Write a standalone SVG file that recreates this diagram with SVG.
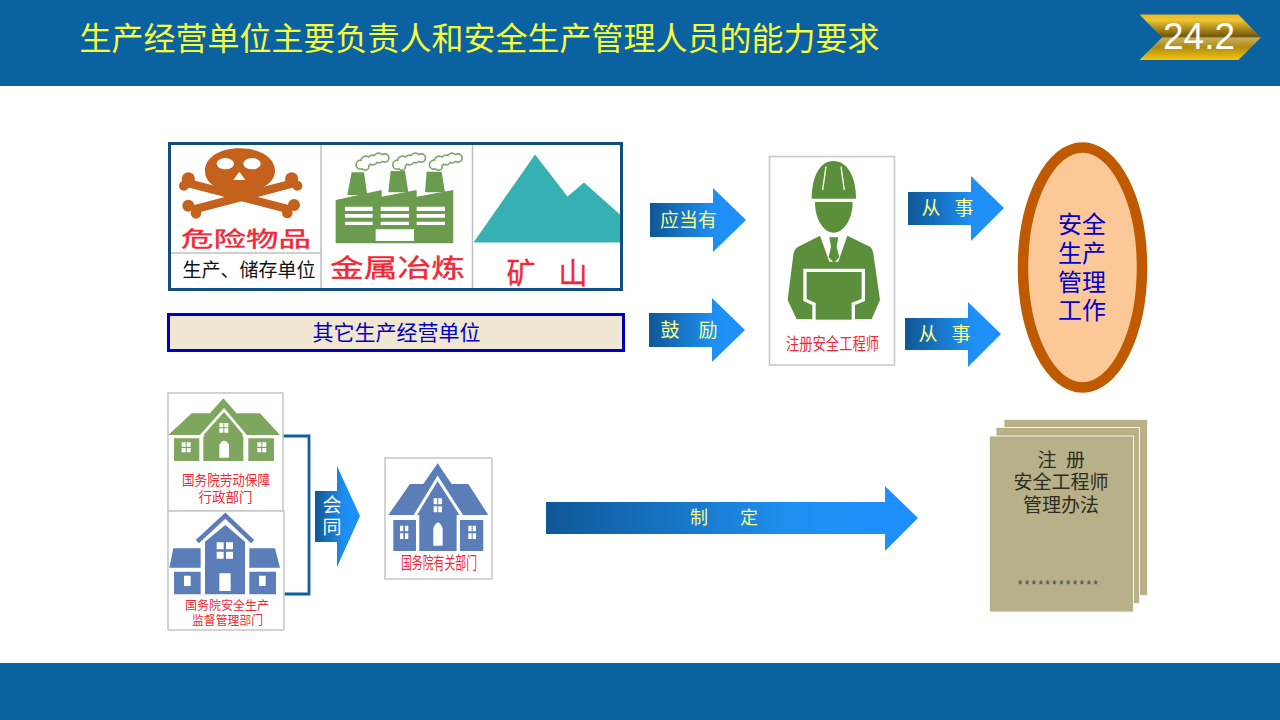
<svg xmlns="http://www.w3.org/2000/svg" width="1280" height="720" viewBox="0 0 1280 720">
<style>
text{font-family:"Noto Sans CJK SC","Liberation Sans",sans-serif;text-anchor:middle}
.red{fill:#ee2a38}
.rb{fill:#ee2a38;stroke:#ee2a38;stroke-width:.35}
.yl{fill:#f8fc8c;font-size:19px}
.card{fill:#fff;stroke:#c8c8c8;stroke-width:1.6}
.w{fill:#fff}
.g{fill:#6b9b4e}
.p{fill:#5b8f3b}
.hg{fill:#7ea65f}
.hb{fill:#5b7db8}
.doc{fill:#b8b088;stroke:#f4f4e8;stroke-width:1}
.dt{fill:#2c2c20;font-size:19px}
.arrow{fill:url(#ag)}
</style>
<defs>
<linearGradient id="ag" x1="0" y1="0" x2="1" y2="0"><stop offset="0" stop-color="#0f5796"/><stop offset=".65" stop-color="#1e8ff0"/><stop offset="1" stop-color="#1e90ff"/></linearGradient>
<linearGradient id="gold" x1="0" y1="0" x2="0" y2="1"><stop offset="0" stop-color="#e8b818"/><stop offset=".12" stop-color="#eec535"/><stop offset=".48" stop-color="#74570a"/><stop offset=".52" stop-color="#c4ad5c"/><stop offset=".72" stop-color="#b28c10"/><stop offset="1" stop-color="#f2c40f"/></linearGradient>
<g id="cloud"><circle cx="0" cy="14" r="11"/><circle cx="16" cy="4" r="13"/><circle cx="36" cy="0" r="12"/><circle cx="54" cy="-6" r="12"/><circle cx="72" cy="-6" r="10"/><circle cx="14" cy="20" r="8"/></g>
</defs>
<rect width="1280" height="720" fill="#fff"/>
<g id="header">
<rect width="1280" height="86" fill="#0a62a0"/>
<text x="479.500" y="50" font-size="32" fill="#f6fb3c">生产经营单位主要负责人和安全生产管理人员的能力要求</text>
<polygon points="1139.500,14.500 1238.500,14.500 1261,37.500 1238.500,60 1139.500,60 1162,37.500" fill="url(#gold)"/>
<text x="1199" y="49" font-size="37" fill="#fff" style="font-family:'Liberation Sans',sans-serif">24.2</text>
</g>
<rect id="footer" y="663" width="1280" height="57" fill="#0a62a0"/>

<g id="hazard-box">
<rect x="169.500" y="143.500" width="452" height="146" fill="#fff"/>
<g id="skull" transform="translate(160 135) scale(.3333)">
<path d="M85 145L395 225M400 145L95 225" fill="none" stroke="#c4611c" stroke-width="25"/>
<g fill="#c4611c">
<circle cx="85" cy="132" r="20"/><circle cx="72" cy="152" r="15"/><circle cx="395" cy="132" r="20"/><circle cx="412" cy="152" r="15"/>
<circle cx="85" cy="212" r="18"/><circle cx="108" cy="235" r="16"/><circle cx="402" cy="210" r="18"/><circle cx="382" cy="234" r="16"/>
<path d="M238 40C300 40 345 68 345 108C345 135 322 150 308 158L305 178L272 190H205L172 178L170 158C155 150 135 135 135 108C135 68 178 40 238 40Z"/>
</g>
<g class="w"><ellipse cx="196" cy="86" rx="26" ry="17"/><ellipse cx="276" cy="86" rx="26" ry="17"/><path d="M238 110L256 135H220Z"/></g>
</g>
<text x="246" y="246" class="rb" font-size="21" textLength="130" lengthAdjust="spacingAndGlyphs">危险物品</text>
<text x="249" y="277" font-size="19" fill="#111">生产、储存单位</text>
<g id="factory" transform="translate(160 135) scale(.3333)">
<g class="g"><path d="M575 112H612L622 180H562ZM692 108H735L745 172H685ZM800 110H845L855 172H795Z"/>
<path d="M527 195L665 165V185L770 165V185L880 165V325H527Z"/></g>
<g class="w"><path d="M555 215h83v13h-83zM555 237h83v11h-83zM555 260h83v10h-83zM662 215h85v13h-85zM662 237h85v11h-85zM662 260h85v10h-85zM770 215h85v13h-85zM770 237h85v11h-85zM770 260h85v10h-85zM647 283h115v35H647z"/></g>
<g fill="#7fa56a" stroke="#7fa56a" stroke-width="10"><use href="#cloud" x="602" y="75"/><use href="#cloud" x="712" y="75"/><use href="#cloud" x="822" y="75"/></g>
<g fill="#fff"><use href="#cloud" x="602" y="75"/><use href="#cloud" x="712" y="75"/><use href="#cloud" x="822" y="75"/></g>
</g>
<text x="397.500" y="277" class="rb" font-size="25" textLength="135" lengthAdjust="spacingAndGlyphs">金属冶炼</text>
<polygon id="mountain" points="473.500,242.500 535,154.500 567.500,196.500 584,182.500 620,214.500 620,242.500" fill="#37b0b4"/>
<text x="521" y="284" class="rb" font-size="29">矿</text>
<text x="573" y="284" class="rb" font-size="29">山</text>
<path d="M321 144V289M472.500 144V289M170 253H321" fill="none" stroke="#c0c0c0" stroke-width="1.500"/>
<rect x="169.500" y="143.500" width="452" height="146" fill="none" stroke="#104e80" stroke-width="3"/>
</g>

<g id="other-units">
<rect x="168.500" y="314.500" width="455" height="36" fill="#f0e6d2" stroke="#0000c0" stroke-width="3"/>
<text x="396.500" y="340" font-size="21" fill="#0000c0">其它生产经营单位</text>
</g>

<g id="connectors">
<polygon class="arrow" points="650,203 713,203 713,188 746,220 713,252 713,237 650,237"/>
<polygon class="arrow" points="649,313 712,313 712,298 745,330 712,362 712,347 649,347"/>
<polygon class="arrow" points="908,192 971,192 971,176 1004,208 971,241 971,225 908,225"/>
<polygon class="arrow" points="905,318 968,318 968,302 1001,334 968,367 968,350 905,350"/>
<polygon class="arrow" points="315,491 337,491 337,466 360,516 337,567 337,542 315,542"/>
<polygon class="arrow" points="546,502 885,502 885,486 918,518 885,551 885,534 546,534"/>
<path d="M283 436H309V594H284" fill="none" stroke="#1060a0" stroke-width="2.800"/>
<text x="688.500" y="227" class="yl">应当有</text>
<text x="670" y="337" class="yl">鼓</text><text x="708" y="337" class="yl">励</text>
<text x="931" y="215" class="yl">从</text><text x="964" y="215" class="yl">事</text>
<text x="928" y="341" class="yl">从</text><text x="961" y="341" class="yl">事</text>
<text x="332" y="512" font-size="19" fill="#fff">会</text><text x="332" y="534" font-size="19" fill="#fff">同</text>
<text x="699" y="524" class="yl" style="font-size:18px">制</text><text x="749" y="524" class="yl" style="font-size:18px">定</text>
</g>

<g id="engineer">
<rect x="769.500" y="156.500" width="125" height="208.500" class="card"/>
<g transform="translate(640 140) scale(.3333)">
<g class="p">
<path d="M515 176C515 110 540 63 580 63C622 63 648 110 648 176Z"/>
<path d="M525 186H638C638 240 610 278 581 278C552 278 525 240 525 186Z"/>
<path d="M540 287L472 322Q462 330 460 345L443 480L470 538H695L720 480L700 340Q697 325 690 320L622 287L595 365H568Z"/>
<path d="M568 292H595L590 320L598 352L582 368L566 352L573 320Z"/>
</g>
<path d="M558 80L548 150M603 80L613 150" stroke="#fff" stroke-width="4" fill="none"/>
<path d="M495 391H670V480L640 492V545H522V492L495 480Z" class="p" stroke="#fff" stroke-width="10"/>
<rect x="440" y="539" width="290" height="20" class="w"/>
</g>
<text x="832.500" y="350" class="red" font-size="17" textLength="93" lengthAdjust="spacingAndGlyphs">注册安全工程师</text>
</g>

<g id="safety-work">
<ellipse cx="1082.500" cy="267.500" rx="59.500" ry="120" fill="#fdc898" stroke="#c05a00" stroke-width="10.500"/>
<g font-size="24" fill="#0000cc"><text x="1082" y="233">安全</text><text x="1082" y="262">生产</text><text x="1082" y="291">管理</text><text x="1082" y="319">工作</text></g>
</g>

<g id="dept-labor">
<rect x="168" y="393" width="115" height="118" class="card"/>
<g transform="translate(160 385) scale(.3333)">
<path class="hg" d="M25 150L95 85H150L190 40L230 85H300L360 150Z"/>
<path class="hg" d="M42 160H118V228H42ZM265 160H342V228H265Z"/>
<path d="M118 158L192 75L262 158" fill="none" stroke="#fff" stroke-width="8"/>
<path class="hg" d="M130 155L192 85L250 155V228H130Z"/>
<path class="w" d="M178 114h12v13h-12zM193 114h12v13h-12zM178 130h12v13h-12zM193 130h12v13h-12zM178 218V180Q192 155 207 180V218ZM65 172h12v13H65zM80 172h12v13H80zM65 189h12v13H65zM80 189h12v13H80zM292 172h12v13h-12zM307 172h12v13h-12zM292 189h12v13h-12zM307 189h12v13h-12z"/>
</g>
<text x="226" y="485" class="red" font-size="13.500" textLength="88" lengthAdjust="spacingAndGlyphs">国务院劳动保障</text>
<text x="225.500" y="502" class="red" font-size="13.500">行政部门</text>
</g>

<g id="dept-safety">
<rect x="168" y="511" width="116" height="119" class="card"/>
<g transform="translate(160 385) scale(.3333)">
<path d="M112 470L196 392L278 470" fill="none" stroke="#5b7db8" stroke-width="14"/>
<path class="hb" d="M135 470L196 420L255 470V628H135Z"/>
<path class="hb" d="M40 490H122V548H28ZM268 490H345L360 548H268ZM42 560H122V628H42ZM268 560H348V628H268Z"/>
<path class="w" d="M170 472h21v21h-21zM198 472h21v21h-21zM170 500h21v21h-21zM198 500h21v21h-21zM178 565h34v53h-34zM72 572h20v31H72zM297 572h20v31h-20z"/>
</g>
<text x="227" y="610" class="red" font-size="12.500" textLength="84" lengthAdjust="spacingAndGlyphs">国务院安全生产</text>
<text x="227.500" y="625" class="red" font-size="12.500" textLength="71" lengthAdjust="spacingAndGlyphs">监督管理部门</text>
</g>

<g id="dept-related">
<rect x="385" y="458" width="107" height="121" class="card"/>
<g transform="translate(160 385) scale(.3333)">
<path class="hb" d="M685 390L750 297H790L833 235L875 297H925L985 390Z"/>
<path d="M765 392L833 280L905 392" fill="none" stroke="#fff" stroke-width="9"/>
<path class="hb" d="M778 385L833 295L890 385V498H778ZM700 405H768V498H700ZM900 405H970V498H900Z"/>
<path class="w" d="M821 340h11v18h-11zM835 340h11v18h-11zM821 364h11v18h-11zM835 364h11v18h-11zM820 482V430Q834 395 848 430V482ZM720 422h10v17h-10zM735 422h10v17h-10zM720 445h10v17h-10zM735 445h10v17h-10zM925 422h10v17h-10zM938 422h10v17h-10zM925 445h10v17h-10zM938 445h10v17h-10z"/>
</g>
<text x="439" y="569" class="red" font-size="17" textLength="76" lengthAdjust="spacingAndGlyphs">国务院有关部门</text>
</g>

<g id="document">
<rect x="1004" y="419.500" width="143.500" height="176" class="doc"/>
<rect x="996" y="427.500" width="143.500" height="176" class="doc"/>
<rect x="989.500" y="436" width="144" height="176" class="doc"/>
<text x="1047" y="467" class="dt">注</text><text x="1075.500" y="467" class="dt">册</text>
<text x="1061" y="489" class="dt">安全工程师</text>
<text x="1061" y="512" class="dt">管理办法</text>
<text x="1059" y="589" font-size="12" fill="#444" letter-spacing="2.200" style="font-family:'Liberation Sans',sans-serif">************</text>
</g>
</svg>
